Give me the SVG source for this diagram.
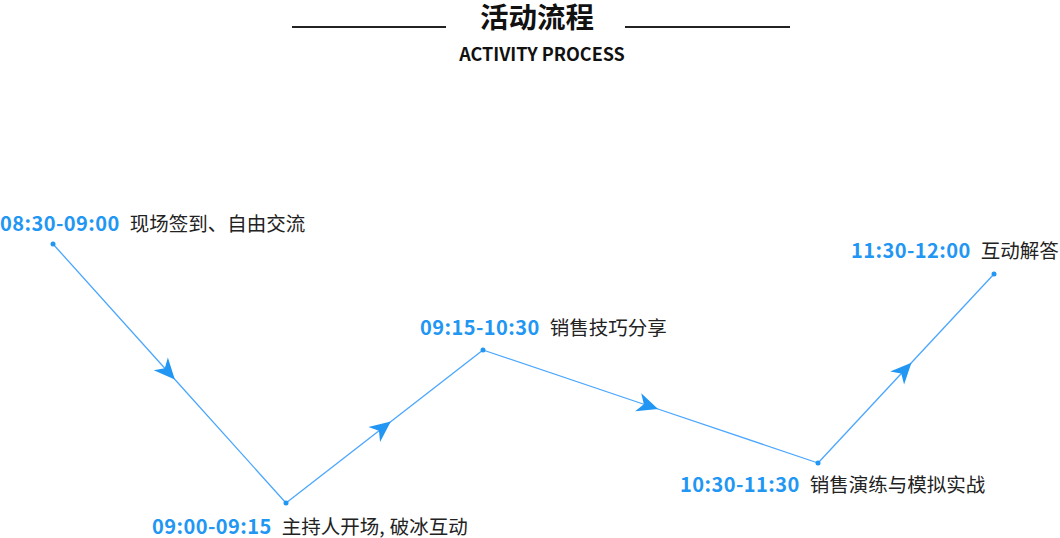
<svg xmlns="http://www.w3.org/2000/svg" width="1060" height="538" viewBox="0 0 1060 538">
<style>
.t{font-family:"Noto Sans CJK SC","Noto Sans",sans-serif;}
.time{font-family:"Noto Sans CJK SC","Noto Sans",sans-serif;font-weight:bold;font-size:20px;letter-spacing:0.45px;fill:#2196f3;}
.desc{font-family:"Noto Sans CJK SC","Noto Sans",sans-serif;font-size:19.5px;letter-spacing:0;fill:#222;}
.conn{fill:none;stroke:#4aa6ff;stroke-width:1.3;marker-mid:url(#arr);}
.dot{fill:#2196f3;}
</style>
<defs>
<marker id="arr" markerUnits="userSpaceOnUse" markerWidth="40" markerHeight="40" viewBox="-30 -15 40 30" refX="-8" refY="0" orient="auto" overflow="visible">
<path d="M0,0 L-21,-9.5 L-15,0 L-21,9.5 Z" fill="#2196f3"/>
</marker>
</defs>
<rect width="1060" height="538" fill="#fff"/>
<g id="title">
<line x1="292" y1="27" x2="446" y2="27" stroke="#222" stroke-width="2"/>
<line x1="625" y1="27" x2="790" y2="27" stroke="#222" stroke-width="2"/>
<text x="537" y="28" text-anchor="middle" class="t" font-weight="bold" font-size="28.5" fill="#111">活动流程</text>
<text x="542" y="61" text-anchor="middle" class="t" font-weight="bold" font-size="18" fill="#111">ACTIVITY PROCESS</text>
</g>
<g id="connectors">
<path class="conn" d="M53,244 L169.5,373.5 L286,503"/>
<path class="conn" d="M286,503 L384.5,426.5 L483,350"/>
<path class="conn" d="M483,350 L650.5,406.5 L818,463"/>
<path class="conn" d="M818,463 L906,368.5 L994,274"/>
</g>
<g id="node1">
<circle class="dot" cx="53" cy="244" r="2.5"/>
<text x="0" y="231"><tspan class="time">08:30-09:00</tspan><tspan class="desc" dx="10">现场签到、自由交流</tspan></text>
</g>
<g id="node2">
<circle class="dot" cx="286" cy="503" r="2.5"/>
<text x="152" y="534"><tspan class="time">09:00-09:15</tspan><tspan class="desc" dx="10">主持人开场,</tspan><tspan class="desc" dx="5">破冰互动</tspan></text>
</g>
<g id="node3">
<circle class="dot" cx="483" cy="350" r="2.5"/>
<text x="420" y="335"><tspan class="time">09:15-10:30</tspan><tspan class="desc" dx="10">销售技巧分享</tspan></text>
</g>
<g id="node4">
<circle class="dot" cx="818" cy="463" r="2.5"/>
<text x="680" y="492"><tspan class="time">10:30-11:30</tspan><tspan class="desc" dx="10">销售演练与模拟实战</tspan></text>
</g>
<g id="node5">
<circle class="dot" cx="994" cy="274" r="2.5"/>
<text x="851" y="258"><tspan class="time">11:30-12:00</tspan><tspan class="desc" dx="10">互动解答</tspan></text>
</g>
</svg>
